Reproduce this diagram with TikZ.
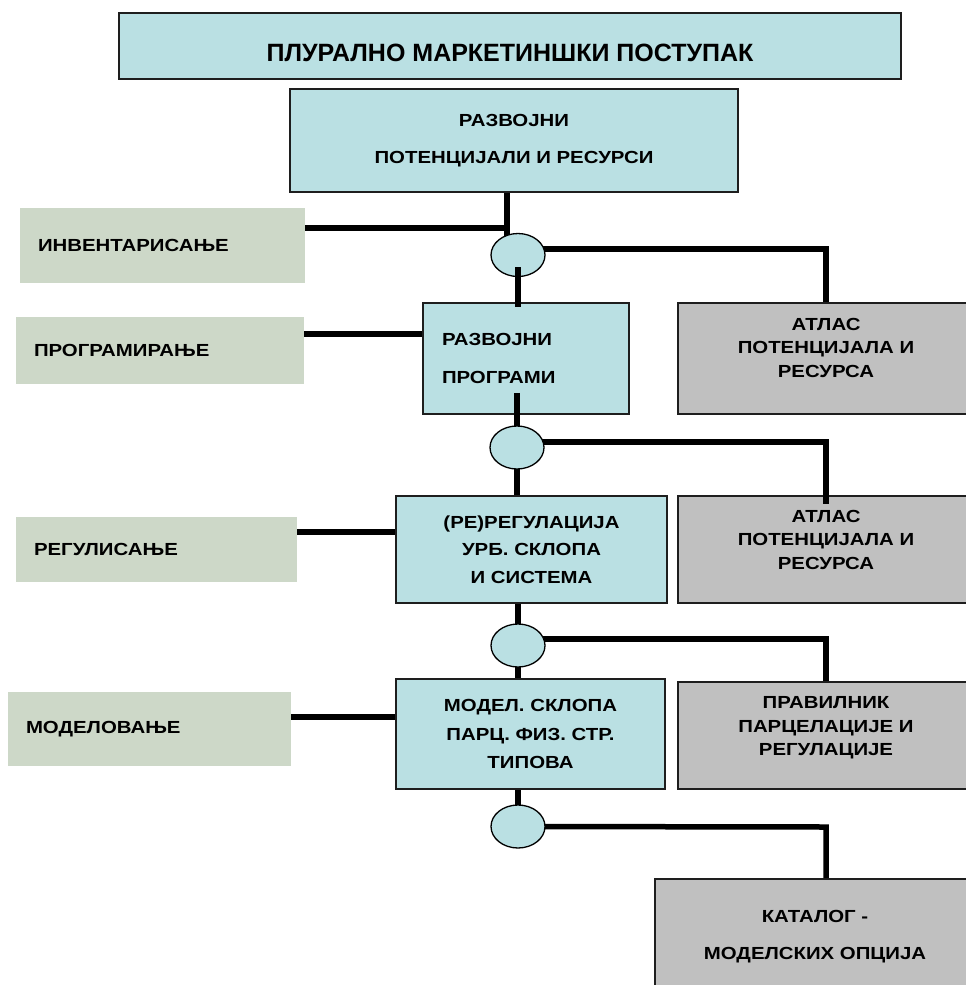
\documentclass[tikz,border=0pt]{standalone}
\usepackage{fontspec}
\newfontfamily\bodyf[FakeStretch=1.165]{Liberation Sans}
\newfontfamily\titlef{Liberation Sans}
\usetikzlibrary{shapes.geometric,calc}
\definecolor{bluefill}{RGB}{186,224,227}
\definecolor{sagefill}{RGB}{205,216,200}
\definecolor{greyfill}{RGB}{192,192,192}
\definecolor{boxline}{RGB}{30,30,30}
\pgfdeclarelayer{fg}
\pgfsetlayers{main,fg}
\begin{document}
\begin{tikzpicture}[x=1pt,y=-1pt,
  bluebox/.style={draw=boxline, line width=1.8pt, fill=bluefill, inner sep=0pt},
  greybox/.style={draw=boxline, line width=2pt, fill=greyfill, inner sep=0pt},
  sagebox/.style={fill=sagefill, draw=none, inner ysep=0pt, inner xsep=18pt, align=left,
    font=\bodyf\bfseries\fontsize{17.5}{23}\selectfont},
  oval/.style={ellipse, draw=black, line width=1.3pt, fill=bluefill,
    minimum width=54pt, minimum height=43pt, inner sep=0pt},
  conn/.style={line width=5.5pt, line cap=butt, line join=miter},
  txt/.style={font=\bodyf\bfseries\fontsize{17.5}{#1}\selectfont, align=center, inner sep=0pt},
  txt/.default=23.5,
]
\useasboundingbox (0,0) rectangle (966,985);

% main boxes
\node[bluebox, minimum width=782pt, minimum height=66pt] (title) at (510,46) {};
\node[txt, font=\titlef\bfseries\fontsize{25}{30}\selectfont] (titlet) at (510,52.5) {ПЛУРАЛНО МАРКЕТИНШКИ ПОСТУПАК};

\node[bluebox, minimum width=448pt, minimum height=103pt, txt=37] (rp) at (514,140.5)
  {РАЗВОЈНИ\\ПОТЕНЦИЈАЛИ И РЕСУРСИ};

\node[sagebox, text width=249pt, minimum height=75pt] (inv) at (162.5,245.5) {ИНВЕНТАРИСАЊЕ};
\node[sagebox, text width=252pt, minimum height=67pt] (prog) at (160,350.5) {ПРОГРАМИРАЊЕ};
\node[sagebox, text width=245pt, minimum height=65pt] (reg) at (156.5,549.5) {РЕГУЛИСАЊЕ};
\node[sagebox, text width=247pt, minimum height=74pt] (mod) at (149.5,729) {МОДЕЛОВАЊЕ};

\node[bluebox, minimum width=206pt, minimum height=111pt, text width=168pt, inner xsep=19pt,
  align=left, font=\bodyf\bfseries\fontsize{17.5}{37.5}\selectfont] (rprog) at (526,358.5)
  {РАЗВОЈНИ\\ПРОГРАМИ};
\node[bluebox, minimum width=271pt, minimum height=107pt, txt=27.5] (rereg) at (531.5,549.5)
  {(РЕ)РЕГУЛАЦИЈА\\УРБ. СКЛОПА\\И СИСТЕМА};
\node[bluebox, minimum width=269pt, minimum height=110pt, txt=28.5] (model) at (530.5,734)
  {МОДЕЛ. СКЛОПА\\ПАРЦ. ФИЗ. СТР.\\ТИПОВА};

\node[greybox, minimum width=302pt, minimum height=111pt] (atlas1) at (829,358.5) {};
\node[txt] (atlas1t) at (826,347.5) {АТЛАС\\ПОТЕНЦИЈАЛА И\\РЕСУРСА};
\node[greybox, minimum width=302pt, minimum height=107pt] (atlas2) at (829,549.5) {};
\node[txt] (atlas2t) at (826,539.5) {АТЛАС\\ПОТЕНЦИЈАЛА И\\РЕСУРСА};
\node[greybox, minimum width=302pt, minimum height=107pt] (prav) at (829,735.5) {};
\node[txt] (pravt) at (826,728) {ПРАВИЛНИК\\ПАРЦЕЛАЦИЈЕ И\\РЕГУЛАЦИЈЕ};
\node[greybox, minimum width=325pt, minimum height=121pt] (kat) at (817.5,939.5) {};
\node[txt=37] (katt) at (815,936.5) {КАТАЛОГ -\\МОДЕЛСКИХ ОПЦИЈА};

% ovals (on top)
\begin{pgfonlayer}{fg}
\node[oval] (e1) at (518,255) {};
\node[oval] (e2) at (517,447.5) {};
\node[oval] (e3) at (518,645.5) {};
\node[oval] (e4) at (518,826.5) {};
\draw[conn] ($(e1.center)+(0,12)$) -- ($(rprog.north -| e1)+(0,5)$);
\end{pgfonlayer}

% junction coordinates
\coordinate (j1) at (507,228);
\coordinate (h2) at (423,334);
\coordinate (h3) at (396,532);
\coordinate (h4) at (396,717);
\coordinate (k1) at (826,249);
\coordinate (k2) at (826,442);
\coordinate (k3) at (826,639);
\coordinate (k4) at (826,827);

% connectors
\draw[conn] (rp.south -| j1) -- ($(j1)+(0,12)$);
\draw[conn] (inv.east |- j1) -- (j1);
\draw[conn] (e1 |- k1) -- (k1) -- (atlas1.north -| k1);

\draw[conn] (prog.east |- h2) -- (rprog.west |- h2);
\draw[conn] ($(rprog.south -| e2)+(0,-22)$) -- (e2.center);
\draw[conn] (e2 |- k2) -- (k2) -- ($(atlas2.north -| k2)+(0,9)$);
\draw[conn] (e2.center) -- (rereg.north -| e2);

\draw[conn] (reg.east |- h3) -- (rereg.west |- h3);
\draw[conn] (rereg.south -| e3) -- (e3.center);
\draw[conn] (e3.center) -- (model.north -| e3);
\draw[conn] (e3 |- k3) -- (k3) -- (prav.north -| k3);

\draw[conn] (mod.east |- h4) -- (model.west |- h4);
\draw[conn] (model.south -| e4) -- (e4.center);
\draw[conn] (e4.center) -- (k4) -- (kat.north -| k4);
\end{tikzpicture}
\end{document}
